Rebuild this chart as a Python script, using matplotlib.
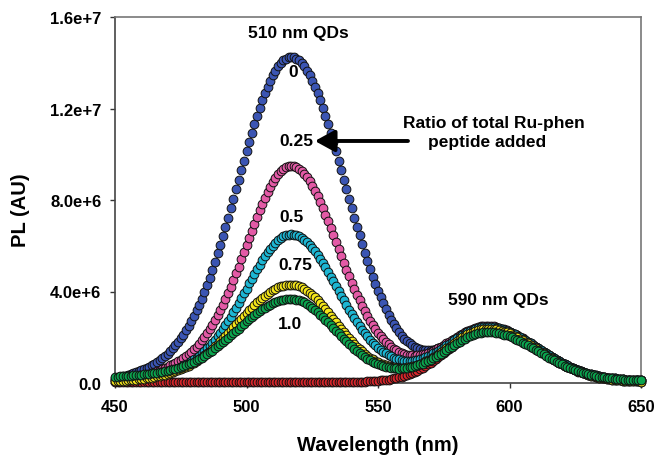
import numpy as np
import matplotlib
matplotlib.use("Agg")
import matplotlib.pyplot as plt

plt.rcParams['font.family'] = ['Liberation Sans', 'DejaVu Sans']
plt.rcParams['font.weight'] = 'bold'

# wavelength axis (nm), one reading per nm
wavelength = np.arange(450, 651)

# PL intensities, in units of 1e5 AU
ratio_0 = [
    2.0, 2.3, 2.6, 2.9, 3.2, 3.5, 3.9, 4.3, 4.7, 5.2,
    5.7, 6.1, 6.6, 7.2, 7.8, 8.4, 9.1, 9.9, 10.8, 11.8,
    12.8, 13.9, 15.1, 16.5, 17.9, 19.5, 21.2, 23.0, 25.0, 27.1,
    29.3, 31.7, 34.2, 36.9, 39.7, 42.8, 46.1, 49.5, 53.0, 56.7,
    60.4, 64.3, 68.3, 72.3, 76.4, 80.6, 84.7, 88.9, 93.1, 97.2,
    101.3, 105.3, 109.3, 113.1, 116.7, 120.2, 123.5, 126.6, 129.5, 132.1,
    134.5, 136.6, 138.4, 139.8, 141.0, 141.8, 142.3, 142.5, 142.3, 141.8,
    141.0, 139.8, 138.4, 136.6, 134.5, 132.1, 129.5, 126.6, 123.5, 120.2,
    116.7, 113.1, 109.3, 105.3, 101.3, 97.2, 93.1, 88.9, 84.7, 80.6,
    76.4, 72.3, 68.4, 64.5, 60.6, 56.9, 53.3, 49.8, 46.5, 43.3,
    40.3, 37.5, 34.8, 32.2, 29.9, 27.7, 25.7, 23.9, 22.2, 20.7,
    19.4, 18.3, 17.3, 16.4, 15.7, 15.2, 14.8, 14.5, 14.4, 14.3,
    14.4, 14.6, 14.9, 15.3, 15.7, 16.2, 16.8, 17.4, 18.0, 18.6,
    19.3, 20.0, 20.6, 21.2, 21.8, 22.4, 22.8, 23.3, 23.6, 23.9,
    24.1, 24.2, 24.2, 24.1, 24.0, 23.8, 23.5, 23.2, 22.9, 22.5,
    22.1, 21.6, 21.0, 20.5, 19.8, 19.2, 18.5, 17.8, 17.1, 16.4,
    15.7, 15.0, 14.2, 13.5, 12.8, 12.1, 11.4, 10.7, 10.0, 9.4,
    8.8, 8.2, 7.6, 7.1, 6.6, 6.1, 5.6, 5.2, 4.8, 4.5,
    4.1, 3.8, 3.5, 3.2, 3.0, 2.8, 2.6, 2.4, 2.2, 2.1,
    2.0, 1.8, 1.7, 1.6, 1.5, 1.5, 1.4, 1.4, 1.3, 1.3,
    1.2,
]

ratio_025 = [
    1.3, 1.4, 1.5, 1.6, 1.7, 1.9, 2.1, 2.3, 2.5, 2.8,
    3.1, 3.4, 3.7, 4.1, 4.5, 4.9, 5.3, 5.8, 6.3, 6.7,
    7.2, 7.7, 8.2, 8.8, 9.4, 10.1, 10.9, 11.7, 12.6, 13.6,
    14.7, 15.9, 17.2, 18.6, 20.1, 21.7, 23.5, 25.4, 27.4, 29.6,
    31.8, 34.2, 36.8, 39.4, 42.1, 45.0, 47.9, 50.9, 54.0, 57.1,
    60.2, 63.4, 66.5, 69.6, 72.6, 75.5, 78.3, 80.9, 83.4, 85.7,
    87.8, 89.6, 91.2, 92.6, 93.6, 94.4, 94.9, 95.0, 94.9, 94.4,
    93.7, 92.7, 91.5, 89.9, 88.2, 86.2, 84.0, 81.6, 79.1, 76.4,
    73.6, 70.7, 67.8, 64.8, 61.7, 58.7, 55.6, 52.6, 49.6, 46.7,
    43.9, 41.1, 38.6, 36.1, 33.7, 31.4, 29.3, 27.3, 25.4, 23.6,
    22.0, 20.5, 19.2, 18.0, 16.9, 15.9, 15.0, 14.3, 13.6, 13.1,
    12.7, 12.4, 12.2, 12.1, 12.0, 12.1, 12.2, 12.5, 12.8, 13.2,
    13.6, 14.1, 14.7, 15.3, 15.9, 16.6, 17.3, 18.0, 18.7, 19.4,
    20.2, 20.9, 21.5, 22.2, 22.7, 23.3, 23.7, 24.1, 24.5, 24.7,
    24.9, 24.9, 24.9, 24.8, 24.7, 24.4, 24.2, 23.8, 23.5, 23.0,
    22.5, 22.0, 21.4, 20.8, 20.2, 19.5, 18.8, 18.1, 17.4, 16.7,
    15.9, 15.2, 14.4, 13.7, 12.9, 12.2, 11.5, 10.8, 10.1, 9.5,
    8.9, 8.3, 7.7, 7.1, 6.6, 6.1, 5.7, 5.3, 4.9, 4.5,
    4.1, 3.8, 3.5, 3.3, 3.0, 2.8, 2.6, 2.4, 2.2, 2.1,
    2.0, 1.8, 1.7, 1.6, 1.5, 1.5, 1.4, 1.4, 1.3, 1.3,
    1.2,
]

ratio_05 = [
    1.2, 1.3, 1.3, 1.4, 1.5, 1.6, 1.8, 1.9, 2.0, 2.2,
    2.4, 2.6, 2.8, 3.1, 3.4, 3.7, 3.9, 4.3, 4.6, 4.9,
    5.2, 5.5, 5.9, 6.3, 6.7, 7.2, 7.7, 8.3, 8.9, 9.6,
    10.3, 11.1, 12.0, 13.0, 14.0, 15.1, 16.3, 17.6, 19.0, 20.4,
    22.0, 23.6, 25.3, 27.1, 29.0, 31.0, 33.0, 35.0, 37.1, 39.2,
    41.3, 43.5, 45.6, 47.7, 49.7, 51.7, 53.6, 55.4, 57.1, 58.7,
    60.1, 61.4, 62.4, 63.4, 64.1, 64.6, 64.9, 65.0, 64.9, 64.6,
    64.1, 63.5, 62.6, 61.6, 60.4, 59.0, 57.5, 55.9, 54.2, 52.4,
    50.5, 48.5, 46.5, 44.4, 42.3, 40.3, 38.2, 36.1, 34.1, 32.1,
    30.2, 28.3, 26.7, 25.0, 23.3, 21.8, 20.4, 19.0, 17.7, 16.6,
    15.5, 14.5, 13.6, 12.9, 12.2, 11.6, 11.0, 10.6, 10.3, 10.0,
    9.8, 9.8, 9.8, 9.8, 10.0, 10.2, 10.5, 10.8, 11.2, 11.7,
    12.3, 12.9, 13.5, 14.2, 14.9, 15.6, 16.4, 17.2, 17.9, 18.7,
    19.5, 20.2, 20.9, 21.6, 22.2, 22.8, 23.3, 23.7, 24.1, 24.3,
    24.5, 24.6, 24.6, 24.5, 24.4, 24.2, 24.0, 23.6, 23.3, 22.9,
    22.4, 21.9, 21.3, 20.7, 20.1, 19.4, 18.7, 18.0, 17.3, 16.6,
    15.8, 15.1, 14.3, 13.6, 12.9, 12.2, 11.5, 10.8, 10.1, 9.5,
    8.8, 8.2, 7.7, 7.1, 6.6, 6.1, 5.7, 5.2, 4.8, 4.5,
    4.1, 3.8, 3.5, 3.3, 3.0, 2.8, 2.6, 2.4, 2.2, 2.1,
    2.0, 1.8, 1.7, 1.6, 1.5, 1.5, 1.4, 1.4, 1.3, 1.3,
    1.2,
]

ratio_075 = [
    0.7, 0.7, 0.8, 0.9, 1.0, 1.1, 1.3, 1.4, 1.5, 1.6,
    1.8, 1.9, 2.1, 2.3, 2.4, 2.6, 2.9, 3.1, 3.4, 3.6,
    3.9, 4.3, 4.7, 5.1, 5.5, 6.0, 6.5, 7.0, 7.6, 8.2,
    8.9, 9.6, 10.4, 11.2, 12.1, 13.0, 14.0, 15.0, 16.1, 17.2,
    18.3, 19.5, 20.7, 21.9, 23.1, 24.4, 25.6, 26.9, 28.1, 29.4,
    30.6, 31.8, 33.0, 34.1, 35.2, 36.3, 37.3, 38.2, 39.1, 39.9,
    40.6, 41.2, 41.8, 42.2, 42.5, 42.8, 43.0, 43.0, 42.9, 42.7,
    42.3, 41.8, 41.2, 40.4, 39.5, 38.5, 37.4, 36.3, 35.0, 33.7,
    32.3, 30.9, 29.5, 28.0, 26.5, 25.1, 23.6, 22.2, 20.8, 19.5,
    18.2, 17.0, 15.9, 14.8, 13.8, 12.8, 11.9, 11.1, 10.4, 9.7,
    9.1, 8.5, 8.1, 7.7, 7.3, 7.1, 6.9, 6.7, 6.6, 6.6,
    6.7, 6.8, 7.0, 7.3, 7.6, 7.9, 8.3, 8.8, 9.4, 9.9,
    10.6, 11.3, 12.0, 12.7, 13.5, 14.3, 15.1, 15.9, 16.8, 17.6,
    18.4, 19.2, 19.9, 20.6, 21.3, 21.8, 22.4, 22.8, 23.2, 23.5,
    23.7, 23.8, 23.8, 23.8, 23.6, 23.5, 23.2, 22.9, 22.5, 22.1,
    21.7, 21.2, 20.6, 20.0, 19.4, 18.8, 18.1, 17.4, 16.7, 15.9,
    15.2, 14.4, 13.7, 13.0, 12.2, 11.5, 10.8, 10.1, 9.5, 8.8,
    8.2, 7.6, 7.1, 6.5, 6.0, 5.5, 5.1, 4.7, 4.3, 3.9,
    3.5, 3.2, 2.9, 2.7, 2.4, 2.2, 2.0, 1.8, 1.6, 1.5,
    1.4, 1.2, 1.1, 1.0, 0.9, 0.9, 0.8, 0.8, 0.7, 0.7,
    0.6,
]

ratio_10 = [
    2.7, 2.8, 2.9, 2.9, 3.0, 3.1, 3.2, 3.3, 3.4, 3.5,
    3.7, 3.8, 3.9, 4.0, 4.2, 4.3, 4.5, 4.7, 4.9, 5.2,
    5.4, 5.7, 6.0, 6.3, 6.6, 7.0, 7.4, 7.8, 8.3, 8.8,
    9.3, 9.9, 10.5, 11.1, 11.9, 12.6, 13.4, 14.2, 15.1, 16.0,
    16.9, 17.8, 18.8, 19.8, 20.8, 21.8, 22.8, 23.8, 24.9, 25.9,
    26.9, 27.8, 28.8, 29.7, 30.6, 31.5, 32.3, 33.0, 33.7, 34.3,
    34.9, 35.4, 35.8, 36.2, 36.5, 36.6, 36.7, 36.8, 36.7, 36.5,
    36.2, 35.7, 35.2, 34.5, 33.8, 32.9, 32.0, 31.0, 29.9, 28.8,
    27.7, 26.5, 25.3, 24.1, 22.9, 21.7, 20.5, 19.3, 18.2, 17.1,
    16.0, 15.0, 13.8, 12.9, 12.1, 11.3, 10.6, 9.9, 9.3, 8.7,
    8.2, 7.8, 7.4, 7.1, 6.8, 6.6, 6.5, 6.4, 6.3, 6.4,
    6.4, 6.6, 6.8, 7.0, 7.3, 7.7, 8.1, 8.5, 9.0, 9.5,
    10.1, 10.8, 11.4, 12.1, 12.8, 13.6, 14.3, 15.1, 15.8, 16.6,
    17.3, 18.0, 18.7, 19.4, 20.0, 20.5, 21.0, 21.4, 21.8, 22.0,
    22.2, 22.3, 22.3, 22.3, 22.2, 22.0, 21.8, 21.5, 21.2, 20.8,
    20.4, 19.9, 19.4, 18.9, 18.3, 17.7, 17.1, 16.5, 15.8, 15.2,
    14.5, 13.8, 13.1, 12.5, 11.8, 11.1, 10.5, 9.9, 9.3, 8.7,
    8.1, 7.6, 7.1, 6.6, 6.1, 5.7, 5.3, 4.9, 4.5, 4.2,
    3.9, 3.6, 3.3, 3.1, 2.8, 2.6, 2.5, 2.3, 2.1, 2.0,
    1.9, 1.8, 1.7, 1.6, 1.5, 1.4, 1.4, 1.3, 1.3, 1.2,
    1.2,
]

qd590_only = [
    0.4, 0.4, 0.4, 0.4, 0.4, 0.4, 0.4, 0.4, 0.4, 0.4,
    0.4, 0.4, 0.4, 0.4, 0.4, 0.4, 0.4, 0.4, 0.4, 0.4,
    0.4, 0.4, 0.4, 0.4, 0.4, 0.4, 0.4, 0.4, 0.4, 0.4,
    0.4, 0.4, 0.4, 0.4, 0.4, 0.4, 0.4, 0.4, 0.4, 0.4,
    0.4, 0.4, 0.4, 0.4, 0.4, 0.4, 0.4, 0.4, 0.4, 0.4,
    0.4, 0.4, 0.4, 0.4, 0.4, 0.4, 0.4, 0.4, 0.4, 0.4,
    0.4, 0.4, 0.4, 0.4, 0.4, 0.4, 0.4, 0.4, 0.4, 0.4,
    0.4, 0.4, 0.4, 0.4, 0.4, 0.4, 0.4, 0.4, 0.4, 0.4,
    0.4, 0.4, 0.4, 0.4, 0.4, 0.4, 0.4, 0.4, 0.4, 0.4,
    0.4, 0.4, 0.5, 0.6, 0.6, 0.6, 0.7, 0.7, 0.8, 0.9,
    1.0, 1.1, 1.2, 1.4, 1.5, 1.7, 2.0, 2.2, 2.5, 2.8,
    3.1, 3.5, 3.9, 4.4, 4.9, 5.4, 6.0, 6.7, 7.3, 8.1,
    8.8, 9.6, 10.4, 11.3, 12.1, 13.0, 13.9, 14.8, 15.7, 16.6,
    17.4, 18.3, 19.1, 19.8, 20.5, 21.2, 21.7, 22.2, 22.7, 23.0,
    23.2, 23.4, 23.4, 23.4, 23.3, 23.1, 22.9, 22.6, 22.3, 21.9,
    21.5, 21.0, 20.4, 19.9, 19.2, 18.6, 17.9, 17.2, 16.5, 15.8,
    15.1, 14.4, 13.6, 12.9, 12.2, 11.5, 10.8, 10.1, 9.4, 8.8,
    8.2, 7.6, 7.0, 6.5, 6.0, 5.5, 5.0, 4.6, 4.2, 3.9,
    3.5, 3.2, 2.9, 2.6, 2.4, 2.2, 2.0, 1.8, 1.6, 1.5,
    1.4, 1.2, 1.1, 1.0, 0.9, 0.9, 0.8, 0.8, 0.7, 0.7,
    0.6,
]

UNIT = 1e5

series = [
    (qd590_only, '#d8262b'),
    (ratio_0, '#3b55b3'),
    (ratio_025, '#e35aa6'),
    (ratio_05, '#1db6d3'),
    (ratio_075, '#f4e61a'),
    (ratio_10, '#0ba54e'),
]

x_ticks = [450, 500, 550, 600, 650]
y_ticks = [0, 4e6, 8e6, 1.2e7, 1.6e7]
y_tick_labels = ['0.0', '4.0e+6', '8.0e+6', '1.2e+7', '1.6e+7']

fig = plt.figure(figsize=(6.56, 4.56), dpi=100)
ax = fig.add_axes([115/656, 72/456, 526/656, 366/456])

for vals, col in series:
    ax.plot(wavelength, np.array(vals) * UNIT, linestyle='none', marker='o',
            markersize=6.3, markerfacecolor=col, markeredgecolor='#111111',
            markeredgewidth=0.7, clip_on=False, zorder=3)

ax.set_xlim(450, 650)
ax.set_ylim(0, 1.6e7)
ax.set_xticks(x_ticks)
ax.set_xticklabels([str(t) for t in x_ticks])
ax.set_yticks(y_ticks)
ax.set_yticklabels(y_tick_labels)
ax.tick_params(axis='both', direction='out', length=3.8, width=1.0,
               colors='#333333', labelcolor='black', labelsize=12)
ax.tick_params(axis='x', pad=8)
ax.tick_params(axis='y', pad=6)
for lab in ax.get_xticklabels() + ax.get_yticklabels():
    lab.set_fontweight('bold')

for side in ['left', 'bottom']:
    ax.spines[side].set_color('#444444')
    ax.spines[side].set_linewidth(1.2)
for side in ['top', 'right']:
    ax.spines[side].set_color('#777777')
    ax.spines[side].set_linewidth(1.2)

ax.set_xlabel('Wavelength (nm)', fontsize=14.5, fontweight='bold')
ax.xaxis.set_label_coords(0.5, -0.143)
ax.set_ylabel('PL (AU)', fontsize=14.5, fontweight='bold')
ax.yaxis.set_label_coords(-0.162, 0.475)

tkw = dict(fontsize=12.5, fontweight='bold', ha='center', va='center', zorder=5)
ax.text(519.6, 1.534e7, '510 nm QDs', **tkw)
ax.text(517.7, 1.36e7, '0', **tkw)
ax.text(518.8, 1.058e7, '0.25', **tkw)
ax.text(517.3, 7.26e6, '0.5', **tkw)
ax.text(518.4, 5.2e6, '0.75', **tkw)
ax.text(516.5, 2.58e6, '1.0', **tkw)
ax.text(595.6, 3.63e6, '590 nm QDs', **tkw)
ax.text(594.1, 1.137e7, 'Ratio of total Ru-phen', **tkw)
ax.text(591.3, 1.054e7, 'peptide added', **tkw)

ax.annotate('', xy=(526, 1.058e7), xytext=(561.4, 1.058e7),
            arrowprops=dict(arrowstyle='-|>,head_length=0.6,head_width=0.33',
                            lw=2.8, color='black', shrinkA=0, shrinkB=0,
                            mutation_scale=20), zorder=5)

fig.savefig('out.png', dpi=100)
